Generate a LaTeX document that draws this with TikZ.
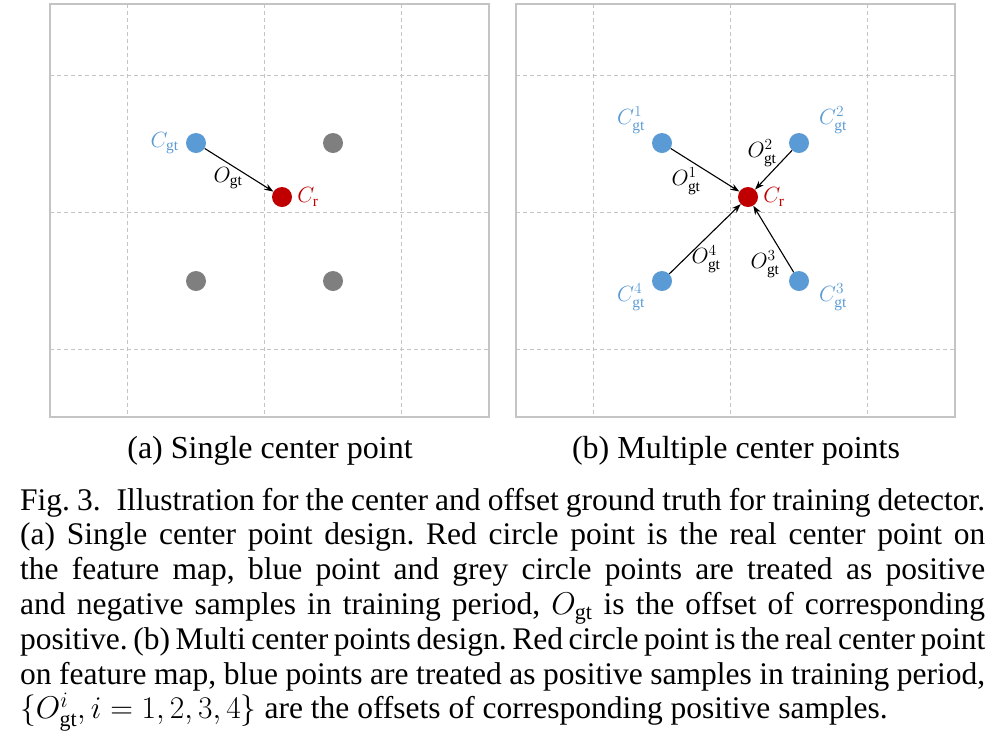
\RequirePackage{fix-cm}
\documentclass[tikz,border=0pt]{standalone}
\usepackage{amsmath}
\usepackage{fontspec}
\setmainfont{Liberation Serif}
\usetikzlibrary{arrows.meta,positioning}

\definecolor{ptblue}{RGB}{91,155,213}
\definecolor{ptred}{RGB}{192,0,0}
\definecolor{ptgrey}{RGB}{127,127,127}
\definecolor{gridgrey}{RGB}{196,196,196}

\tikzset{
  framebox/.style={draw=gridgrey, line width=1.2pt},
  gridline/.style={draw=gridgrey, line width=0.9pt, dash pattern=on 4pt off 3pt},
  dotpt/.style={circle, inner sep=0pt, minimum size=20pt},
  bluept/.style={dotpt, fill=ptblue},
  redpt/.style={dotpt, fill=ptred},
  greypt/.style={dotpt, fill=ptgrey},
  offarrow/.style={-{Stealth[length=9pt,width=6.5pt]}, line width=1.1pt},
  mathlbl/.style={inner sep=0pt, font=\fontsize{22}{26}\selectfont},
  subcap/.style={inner sep=0pt, font=\fontsize{32}{36}\selectfont},
  captxt/.style={inner sep=0pt, text width=965pt, align=justify, font=\fontsize{31.5}{34.8}\selectfont\frenchspacing},
}

\begin{document}
\begin{tikzpicture}[x=1pt,y=1pt,yscale=-1]
\useasboundingbox (0,0) rectangle (995,740);

%Grid lines and frames of both panels
\foreach \ox in {0,466} {
  \foreach \gx in {127,264,401}
    \draw[gridline] (\gx+\ox,4) -- (\gx+\ox,417);
  \foreach \gy in {75,212,349}
    \draw[gridline] (50+\ox,\gy) -- (489+\ox,\gy);
  \draw[framebox] (50+\ox,4) rectangle (489+\ox,417);
}

%Panel (a): single center point
\node[bluept] (cgt) at (196,143) {};
\node[greypt] (neg1) at (333,143) {};
\node[greypt] (neg2) at (196,281) {};
\node[greypt] (neg3) at (333,281) {};
\node[redpt] (cr) at (282,197) {};
\draw[offarrow] (cgt) -- (cr);

% Text Node
\node[mathlbl, text=ptblue, left=7pt of cgt] (lcgt) {$C_{\mathrm{gt}}$};
\node[mathlbl, text=ptred, right=5pt of cr] (lcr) {$C_{\mathrm{r}}$};
\node[mathlbl] (logt) at (228,178) {$O_{\mathrm{gt}}$};

%Panel (b): multiple center points
\node[bluept] (c1) at (662,143) {};
\node[bluept] (c2) at (799,143) {};
\node[bluept] (c3) at (799,281) {};
\node[bluept] (c4) at (662,281) {};
\node[redpt] (crb) at (748,197) {};
\foreach \k in {1,...,4}
  \draw[offarrow] (c\k) -- (crb);

% Text Node
\node[mathlbl, text=ptblue] (lc1) at (631,120) {$C^{1}_{\mathrm{gt}}$};
\node[mathlbl, text=ptblue] (lc2) at (833,120) {$C^{2}_{\mathrm{gt}}$};
\node[mathlbl, text=ptblue] (lc3) at (833,297) {$C^{3}_{\mathrm{gt}}$};
\node[mathlbl, text=ptblue] (lc4) at (631,297) {$C^{4}_{\mathrm{gt}}$};
\node[mathlbl, text=ptred, right=5pt of crb] (lcrb) {$C_{\mathrm{r}}$};
\node[mathlbl] (lo1) at (686,181) {$O^{1}_{\mathrm{gt}}$};
\node[mathlbl] (lo2) at (762,153) {$O^{2}_{\mathrm{gt}}$};
\node[mathlbl] (lo3) at (765,264) {$O^{3}_{\mathrm{gt}}$};
\node[mathlbl] (lo4) at (706,259) {$O^{4}_{\mathrm{gt}}$};

%Sub-captions and caption
\node[subcap, anchor=base] (capa) at (270,458) {(a) Single center point};
\node[subcap, anchor=base] (capb) at (736,458) {(b) Multiple center points};
\node[captxt, anchor=base west] (cap) at (20,510) {Fig. 3.\hspace{0.5em}Illustration for the center and offset ground truth for training detector.\linebreak
(a) Single center point design. Red circle point is the real center point on\linebreak
the feature map, blue point and grey circle points are treated as positive\linebreak
and negative samples in training period, $O_{\mathrm{gt}}$ is the offset of corresponding\linebreak
positive. (b) Multi center points design. Red circle point is the real center point\linebreak
on feature map, blue points are treated as positive samples in training period,\linebreak
$\{O^{i}_{\mathrm{gt}}, i = 1, 2, 3, 4\}$ are the offsets of corresponding positive samples.};

\end{tikzpicture}
\end{document}
